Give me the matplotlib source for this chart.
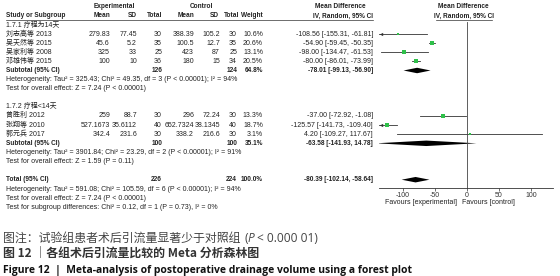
import matplotlib
matplotlib.use("Agg")
import matplotlib.pyplot as plt

plt.rcParams['font.family'] = ['Liberation Sans']
CJK = ['Liberation Sans', 'Noto Sans CJK SC']

# ---- data ----
sub1_label = "1.7.1 疗程为14天"
sub2_label = "1.7.2 疗程<14天"

studies1 = ["刘志高等 2013", "吴天然等 2015", "吴家利等 2008", "邓雄伟等 2015"]
exp_mean1 = ["279.83", "45.6", "325", "100"]
exp_sd1 = ["77.45", "5.2", "33", "10"]
exp_n1 = ["30", "35", "25", "36"]
ctl_mean1 = ["388.39", "100.5", "423", "180"]
ctl_sd1 = ["105.2", "12.7", "87", "15"]
ctl_n1 = ["30", "35", "25", "34"]
weight1 = [10.6, 20.6, 13.1, 20.5]
md1 = [-108.56, -54.90, -98.00, -80.00]
lo1 = [-155.31, -59.45, -134.47, -86.01]
hi1 = [-61.81, -50.35, -61.53, -73.99]
sub1 = ["126", "124", "64.8%", -78.01, -99.13, -56.90]
het1 = "Heterogeneity: Tau² = 325.43; Chi² = 49.35, df = 3 (P < 0.00001); I² = 94%"
eff1 = "Test for overall effect: Z = 7.24 (P < 0.00001)"

studies2 = ["曾胜利 2012", "张翔等 2010", "郭元兵 2017"]
exp_mean2 = ["259", "527.1673", "342.4"]
exp_sd2 = ["88.7", "35.6112", "231.6"]
exp_n2 = ["30", "40", "30"]
ctl_mean2 = ["296", "652.7324", "338.2"]
ctl_sd2 = ["72.24", "38.1345", "216.6"]
ctl_n2 = ["30", "40", "30"]
weight2 = [13.3, 18.7, 3.1]
md2 = [-37.00, -125.57, 4.20]
lo2 = [-72.92, -141.73, -109.27]
hi2 = [-1.08, -109.40, 117.67]
sub2 = ["100", "100", "35.1%", -63.58, -141.93, 14.78]
het2 = "Heterogeneity: Tau² = 3901.84; Chi² = 23.29, df = 2 (P < 0.00001); I² = 91%"
eff2 = "Test for overall effect: Z = 1.59 (P = 0.11)"

total = ["226", "224", "100.0%", -80.39, -102.14, -58.64]
het_t = "Heterogeneity: Tau² = 591.08; Chi² = 105.59, df = 6 (P < 0.00001); I² = 94%"
eff_t = "Test for overall effect: Z = 7.24 (P < 0.00001)"
subdiff = "Test for subgroup differences: Chi² = 0.12, df = 1 (P = 0.73), I² = 0%"

ticks = [-100, -50, 0, 50, 100]

# ---- layout ----
W, H = 560, 276
fig = plt.figure(figsize=(W / 100, H / 100), dpi=100)
fs = 5.0
fsb = 4.7
tc = "#222222"
green = "#2fc04a"

row0, rowh = 6.8, 9.1          # pixel y of row 0 and row spacing
def rowpx(py):
    return (py - row0) / rowh

ax_t = fig.add_axes([0, 0, 1, 1])
ax_t.set_xlim(0, W)
ax_t.set_ylim(rowpx(H), rowpx(0))
ax_t.axis("off")

axis_py = 188
ax = fig.add_axes([379 / W, (H - axis_py) / H, 174 / W, axis_py / H])
ax.set_xlim(-137.5, 134.4)
ax.set_ylim(rowpx(axis_py), rowpx(0))
ax.patch.set_alpha(0)
for s in ["top", "left", "right"]:
    ax.spines[s].set_visible(False)
ax.spines["bottom"].set_linewidth(0.6)
ax.spines["bottom"].set_color("#333333")
ax.set_yticks([])
ax.set_xticks(ticks)
ax.set_xticklabels([str(t) for t in ticks], fontsize=fs, color=tc)
ax.tick_params(axis="x", length=2, width=0.5, pad=1.2, colors="#333333")

# column right edges (pixels)
cols = [110, 137, 162, 194, 220, 237, 263, 373]
head_cols = [110, 137, 162, 194, 219, 239, 263]

def txt(x, y, s, ha="left", bold=False, cjk=False):
    ax_t.text(x, y, s, ha=ha, va="center", fontsize=fsb if bold else fs,
              color=tc, fontweight="bold" if bold else "normal",
              family=CJK if cjk else "Liberation Sans")

# headers
txt(114, 0, "Experimental", ha="center", bold=True)
txt(201, 0, "Control", ha="center", bold=True)
txt(340, 0, "Mean Difference", ha="center", bold=True)
txt(463, 0, "Mean Difference", ha="center", bold=True)
txt(6, 1, "Study or Subgroup", bold=True)
for x, h in zip(head_cols, ["Mean", "SD", "Total", "Mean", "SD", "Total", "Weight"]):
    txt(x, 1, h, ha="right", bold=True)
txt(373, 1, "IV, Random, 95% CI", ha="right", bold=True)
txt(464, 1, "IV, Random, 95% CI", ha="center", bold=True)
ax_t.plot([6, 373], [1.5, 1.5], color="#333333", lw=0.5)
ax_t.plot([436, 492], [1.5, 1.5], color="#333333", lw=0.5)

def study_rows(start, names, em, esd, en, cm, csd, cn, w, md, lo, hi):
    xmin = ax.get_xlim()[0]
    for i in range(len(names)):
        y = start + i
        txt(6, y, names[i], cjk=True)
        vals = [em[i], esd[i], en[i], cm[i], csd[i], cn[i], f"{w[i]:.1f}%",
                f"{md[i]:.2f} [{lo[i]:.2f}, {hi[i]:.2f}]"]
        for x, v in zip(cols, vals):
            txt(x, y, v, ha="right")
        left = max(lo[i], xmin)
        ax.plot([left, hi[i]], [y, y], color="#333333", lw=0.6)
        if lo[i] < xmin:
            ax.plot(xmin + 2.5, y, marker="<", ms=2.4, color="#333333", mew=0)
        ax.plot(md[i], y, marker="s", ms=1.2 + 0.09 * w[i], color=green, mew=0)

def summary_row(y, label, vals):
    txt(6, y, label, bold=True)
    txt(cols[2], y, vals[0], ha="right", bold=True)
    txt(cols[5], y, vals[1], ha="right", bold=True)
    txt(cols[6], y, vals[2], ha="right", bold=True)
    m, l, h = vals[3], vals[4], vals[5]
    txt(cols[7], y, f"{m:.2f} [{l:.2f}, {h:.2f}]", ha="right", bold=True)
    dh = 0.3
    ax.fill([l, m, h, m], [y, y - dh, y, y + dh], color="black", lw=0)

# subgroup 1
txt(6, 2, sub1_label, cjk=True)
study_rows(3, studies1, exp_mean1, exp_sd1, exp_n1, ctl_mean1, ctl_sd1, ctl_n1,
           weight1, md1, lo1, hi1)
summary_row(7, "Subtotal (95% CI)", sub1)
txt(6, 8, het1)
txt(6, 9, eff1)

# subgroup 2
txt(6, 11, sub2_label, cjk=True)
study_rows(12, studies2, exp_mean2, exp_sd2, exp_n2, ctl_mean2, ctl_sd2, ctl_n2,
           weight2, md2, lo2, hi2)
summary_row(15, "Subtotal (95% CI)", sub2)
txt(6, 16, het2)
txt(6, 17, eff2)

# overall
summary_row(19, "Total (95% CI)", total)
txt(6, 20.1, het_t)
txt(6, 21.1, eff_t)
txt(6, 22.1, subdiff)

# zero line
ax.plot([0, 0], [1.67, ax.get_ylim()[0]], color="#444444", lw=0.6, clip_on=False)

txt(457, rowpx(203), "Favours [experimental]", ha="right")
txt(462, rowpx(203), "Favours [control]")

# ---- captions ----
cap_col = "#444444"
cfs = 8.6
cy1 = 1 - 238 / H
r = fig.canvas.get_renderer()
t = fig.text(3 / W, cy1, "图注：试验组患者术后引流量显著少于对照组", fontsize=cfs,
             color=cap_col, va="center", family="Noto Sans CJK SC")
x1 = t.get_window_extent(r).x1 + 4
t = fig.text(x1 / W, cy1, "(", fontsize=cfs, color=cap_col, va="center",
             family="Open Sans")
x1 = t.get_window_extent(r).x1
t = fig.text(x1 / W, cy1, "P", fontsize=cfs, color=cap_col, va="center",
             style="italic", family="Open Sans")
x1 = t.get_window_extent(r).x1 + 2
fig.text(x1 / W, cy1, "< 0.000 01)", fontsize=cfs, color=cap_col, va="center",
         family="Open Sans")
fig.text(3 / W, 1 - 254 / H, "图 12 ｜各组术后引流量比较的 Meta 分析森林图",
         fontsize=cfs, color="#333333", va="center", fontweight="bold",
         family="Noto Sans CJK SC")
fig.text(3 / W, 1 - 271 / H,
         "Figure 12  |  Meta-analysis of postoperative drainage volume using a forest plot",
         fontsize=7.5, color="#111111", va="center", fontweight="bold",
         family="Open Sans")

fig.savefig("out.png", dpi=100)
